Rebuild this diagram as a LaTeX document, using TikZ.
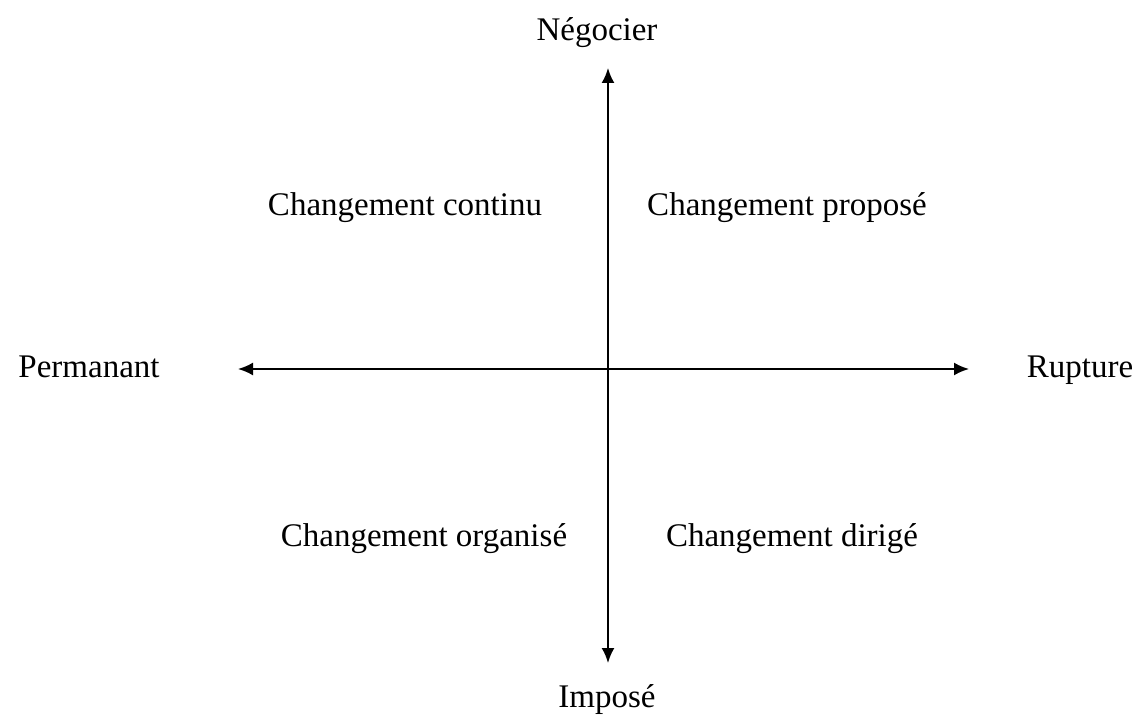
\documentclass[tikz,border=0pt]{standalone}
\usepackage{fontspec}
\setmainfont{Liberation Serif}
\usetikzlibrary{arrows.meta,positioning}

\begin{document}
\begin{tikzpicture}[
  x=0.5pt,y=-0.5pt,
  lbl/.style={font=\fontsize{16.5}{20}\selectfont,inner sep=0pt,anchor=base},
  axis/.style={line width=1pt,{Latex[length=7.5pt,width=6.5pt]}-{Latex[length=7.5pt,width=6.5pt]}}
]
  \useasboundingbox (0,0) rectangle (1146,716);

  \coordinate (top) at (608,68);
  \coordinate (bottom) at (608,663);
  \coordinate (left) at (238,369);
  \coordinate (right) at (969,369);

  \draw[axis] (bottom) -- (top);
  \draw[axis] (left) -- (right);

  \node[lbl] (negocier) at (597,41) {Négocier};
  \node[lbl] (impose) at (607,707) {Imposé};
  \node[lbl] (permanant) at (89,378) {Permanant};
  \node[lbl] (rupture) at (1080,378) {Rupture};

  \node[lbl] (continu) at (405,216) {Changement continu};
  \node[lbl] (propose) at (787,216) {Changement proposé};
  \node[lbl] (organise) at (424,546) {Changement organisé};
  \node[lbl] (dirige) at (792,546) {Changement dirigé};
\end{tikzpicture}
\end{document}
